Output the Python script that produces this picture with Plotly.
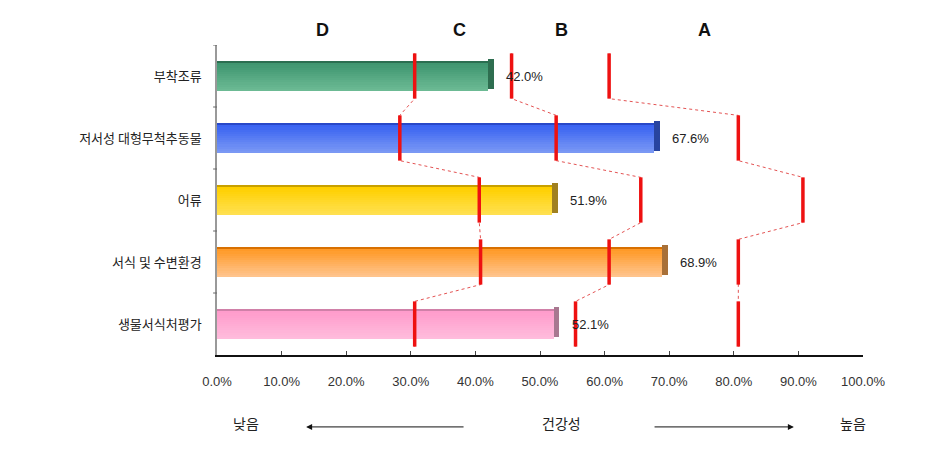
import plotly.graph_objects as go

categories = ["부착조류", "저서성 대형무척추동물", "어류", "서식 및 수변환경", "생물서식처평가"]
values = [42.0, 67.6, 51.9, 68.9, 52.1]
grade_c = [30.6, 28.3, 40.6, 40.8, 30.6]
grade_b = [45.6, 52.5, 65.6, 60.7, 55.5]
grade_a = [60.7, 80.7, 90.7, 80.7, 80.7]
grade_labels = ["D", "C", "B", "A"]
grade_label_pos = [16.4, 37.5, 53.3, 75.5]
x_ticks = [0, 10, 20, 30, 40, 50, 60, 70, 80, 90, 100]

# bar colours: (top edge, upper, bottom, side)
bar_colors = [
    ("#2a6e50", "#3f9670", "#6cba94", "#2e6e50"),
    ("#2848c8", "#3a64f2", "#7a98f4", "#2844a0"),
    ("#c8a000", "#ffd000", "#ffe050", "#a08020"),
    ("#d87000", "#ff9a28", "#ffc48c", "#a87038"),
    ("#d080a8", "#ff9ccc", "#ffbcdc", "#a87890"),
]


def hex2rgb(h):
    h = h.lstrip("#")
    return tuple(int(h[i:i + 2], 16) for i in (0, 2, 4))


def mix(c1, c2, t):
    a, b = hex2rgb(c1), hex2rgb(c2)
    return "rgb(%d,%d,%d)" % tuple(round(a[i] + (b[i] - a[i]) * t) for i in range(3))


fig = go.Figure()
ypos = list(range(len(categories)))
bar_w = 0.48
n_strips = 14
sw = bar_w / n_strips

# side face of bars
fig.add_trace(go.Bar(
    y=ypos, x=[0.9] * len(values), base=values, orientation="h",
    width=bar_w, offset=-bar_w / 2 - 0.03,
    marker=dict(color=[c[3] for c in bar_colors], line=dict(width=0)),
    hoverinfo="skip", showlegend=False))

for k in range(n_strips):
    cols = []
    for c in bar_colors:
        if k == 0:
            cols.append(c[0])
        else:
            cols.append(mix(c[1], c[2], (k - 1) / (n_strips - 2)))
    fig.add_trace(go.Bar(
        y=ypos, x=values, orientation="h", width=sw * 1.05,
        offset=-bar_w / 2 + k * sw,
        marker=dict(color=cols, line=dict(width=0)),
        hoverinfo="skip", showlegend=False))

h = 0.365
for g in (grade_c, grade_b, grade_a):
    px, py = [], []
    for i, v in enumerate(g):
        px += [v, v]
        py += [i - h, i + h]
    fig.add_trace(go.Scatter(x=px, y=py, mode="lines",
                             line=dict(color="rgba(220,40,40,0.8)", width=1, dash="dot"),
                             hoverinfo="skip", showlegend=False))
    sx, sy = [], []
    for i, v in enumerate(g):
        sx += [v, v, None]
        sy += [i - h, i + h, None]
    fig.add_trace(go.Scatter(x=sx, y=sy, mode="lines",
                             line=dict(color="#ee1111", width=3.5),
                             hoverinfo="skip", showlegend=False))

annotations = []
for i, v in enumerate(values):
    annotations.append(dict(x=v, y=i, xref="x", yref="y", text="%.1f%%" % v,
                            showarrow=False, xanchor="left", yanchor="middle", xshift=16,
                            font=dict(family="Liberation Sans, Arial", size=13, color="#222")))
for lab, p in zip(grade_labels, grade_label_pos):
    annotations.append(dict(x=p, y=1.048, xref="x", yref="paper", text="<b>%s</b>" % lab,
                            showarrow=False, yanchor="middle",
                            font=dict(family="Liberation Sans, Arial", size=18, color="#111")))

ytext = -0.219
yarrow = -0.232
kfont = dict(family="Noto Sans CJK KR", size=14, color="#222")
annotations += [
    dict(x=4.5, y=ytext, xref="x", yref="paper", text="낮음", showarrow=False,
         yanchor="middle", font=kfont),
    dict(x=53.3, y=ytext, xref="x", yref="paper", text="건강성", showarrow=False,
         yanchor="middle", font=kfont),
    dict(x=98.5, y=ytext, xref="x", yref="paper", text="높음", showarrow=False,
         yanchor="middle", font=kfont),
    dict(x=13.8, y=yarrow, xref="x", yref="paper", ax=38.4, ay=0, axref="x", ayref="pixel",
         text="", showarrow=True, arrowhead=2, arrowsize=1.2, arrowwidth=1, arrowcolor="#111"),
    dict(x=89.3, y=yarrow, xref="x", yref="paper", ax=67.5, ay=0, axref="x", ayref="pixel",
         text="", showarrow=True, arrowhead=2, arrowsize=1.2, arrowwidth=1, arrowcolor="#111"),
]

fig.update_layout(
    width=935, height=471,
    margin=dict(l=217, r=72, t=45, b=116),
    paper_bgcolor="white", plot_bgcolor="white",
    barmode="overlay", bargap=0,
    annotations=annotations,
    xaxis=dict(range=[0, 100], tickvals=x_ticks,
               ticktext=["%.1f%%" % v for v in x_ticks],
               showgrid=False, zeroline=False,
               showline=True, linecolor="#111", linewidth=1.5,
               ticks="inside", ticklen=4, tickcolor="#444",
               ticklabelstandoff=14,
               tickfont=dict(family="Liberation Sans, Arial", size=13, color="#333")),
    yaxis=dict(range=[4.5, -0.5], tickvals=ypos, ticktext=categories,
               showgrid=False, zeroline=False,
               showline=True, linecolor="#999", linewidth=1.5,
               ticks="", ticklabelstandoff=11,
               tickfont=dict(family="Noto Sans CJK KR", size=13, color="#222")),
)

# boundary ticks on the y axis
for b in [-0.5, 0.5, 1.5, 2.5, 3.5]:
    fig.add_shape(type="line", xref="paper", yref="y", x0=-0.006, x1=0, y0=b, y1=b,
                  line=dict(color="#666", width=1))

fig.write_html("out.html")
